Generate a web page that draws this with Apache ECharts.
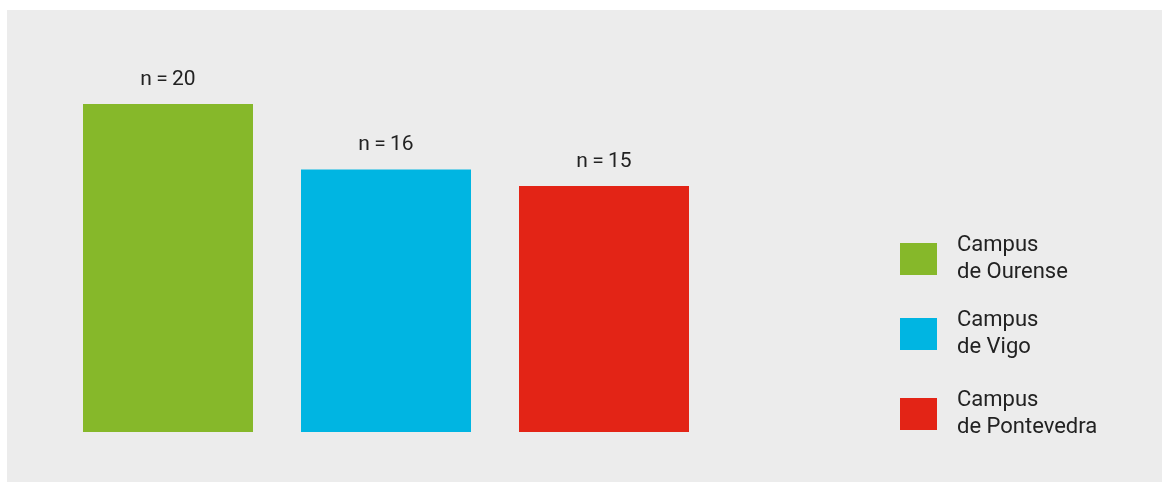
<!DOCTYPE html>
<html>
<head>
<meta charset="utf-8">
<script src="https://cdn.jsdelivr.net/npm/echarts@6/dist/echarts.min.js"></script>
<style>
html,body{margin:0;padding:0;background:#ffffff;width:1169px;height:482px;overflow:hidden;}
#chart{position:absolute;left:7px;top:10px;width:1155px;height:472px;background:#ececec;}
</style>
</head>
<body>
<div id="chart"></div>
<script>
const categories = ['Campus de Ourense', 'Campus de Vigo', 'Campus de Pontevedra'];
const seriesNames = ['Campus\nde Ourense', 'Campus\nde Vigo', 'Campus\nde Pontevedra'];
const values = [20, 16, 15];
const colors = ['#86b82a', '#00b5e2', '#e32416'];
const legendTops = [222, 297, 377];

const chart = echarts.init(document.getElementById('chart'), null, {renderer: 'canvas'});
const FONT = 'Roboto, "Noto Sans", sans-serif';

const series = values.map((v, i) => ({
  name: seriesNames[i],
  type: 'bar',
  stack: 'all',
  barWidth: 170,
  data: categories.map((c, j) => (j === i ? v : '-')),
  itemStyle: {color: colors[i]},
  label: {
    show: true,
    position: 'top',
    distance: 14,
    formatter: 'n\u2009=\u2009{c}',
    fontFamily: FONT,
    fontSize: 21,
    color: '#222222'
  },
  emphasis: {disabled: true}
}));

const legends = seriesNames.map((n, i) => ({
  data: [n],
  left: 893,
  top: legendTops[i],
  padding: 0,
  orient: 'vertical',
  itemWidth: 37,
  itemHeight: 32,
  icon: 'rect',
  selectedMode: false,
  textStyle: {
    fontFamily: FONT,
    fontSize: 22,
    lineHeight: 27,
    color: '#222222',
    padding: [0, 0, 0, 15]
  }
}));

chart.setOption({
  animation: false,
  backgroundColor: '#ececec',
  legend: legends,
  grid: {left: 52, width: 654, top: 94, bottom: 50, containLabel: false},
  xAxis: {
    type: 'category',
    data: categories,
    show: false
  },
  yAxis: {
    type: 'value',
    min: 0,
    max: 20,
    show: false
  },
  series: series
});
</script>
</body>
</html>
